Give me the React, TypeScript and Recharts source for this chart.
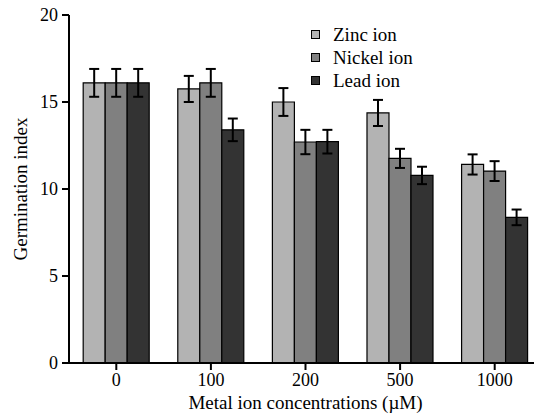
import React from "react";
import { Bar, BarChart, ErrorBar, Label, Legend, XAxis, YAxis } from "recharts";

const concentrations = ["0", "100", "200", "500", "1000"];
const zinc = [16.1, 15.75, 15.0, 14.37, 11.41];
const zincErr = [0.8, 0.75, 0.8, 0.75, 0.58];
const nickel = [16.1, 16.1, 12.7, 11.76, 11.03];
const nickelErr = [0.8, 0.8, 0.7, 0.55, 0.57];
const lead = [16.1, 13.4, 12.72, 10.78, 8.37];
const leadErr = [0.8, 0.65, 0.68, 0.5, 0.45];
const yTicks = [0, 5, 10, 15, 20];

const series = [
  { key: "zinc", name: "Zinc ion", color: "#b3b3b3" },
  { key: "nickel", name: "Nickel ion", color: "#808080" },
  { key: "lead", name: "Lead ion", color: "#333333" },
];

const data = concentrations.map((c, i) => ({
  conc: c,
  zinc: zinc[i],
  zincErr: zincErr[i],
  nickel: nickel[i],
  nickelErr: nickelErr[i],
  lead: lead[i],
  leadErr: leadErr[i],
}));

const FONT = "Times New Roman, Liberation Serif, DejaVu Serif, serif";

const LegendBox = () => (
  <div style={{ fontFamily: FONT, fontSize: 19, color: "#000", lineHeight: "23px" }}>
    {series.map((s) => (
      <div key={s.key} style={{ display: "flex", alignItems: "center" }}>
        <span
          style={{
            display: "inline-block",
            width: 7,
            height: 7,
            background: s.color,
            border: "1px solid #000",
            marginRight: 13,
          }}
        />
        {s.name}
      </div>
    ))}
  </div>
);

const App = () => {
  return (
    <div style={{ position: "absolute", left: 0, top: 0, width: 534, height: 416, overflow: "hidden", background: "#fff" }}>
      <BarChart
        width={542}
        height={416}
        data={data}
        margin={{ top: 15, right: 0, bottom: 0, left: 0 }}
        barCategoryGap="15%"
        barGap={0}
      >
        <XAxis
          dataKey="conc"
          height={53}
          stroke="#000"
          strokeWidth={2}
          tickSize={7}
          tick={{ fill: "#000", fontSize: 18, fontFamily: FONT }}
          tickMargin={3}
        >
          <Label
            value="Metal ion concentrations (µM)"
            position="insideBottom"
            offset={7}
            style={{ fill: "#000", fontSize: 19, fontFamily: FONT }}
          />
        </XAxis>
        <YAxis
          width={69}
          domain={[0, 20]}
          ticks={yTicks}
          stroke="#000"
          strokeWidth={2}
          tickSize={7}
          tickMargin={4}
          tick={{ fill: "#000", fontSize: 18, fontFamily: FONT }}
        >
          <Label
            content={({ viewBox }: any) => {
              const cx = 20;
              const cy = viewBox.y + viewBox.height / 2;
              return (
                <text
                  x={cx}
                  y={cy}
                  transform={`rotate(-90 ${cx} ${cy})`}
                  textAnchor="middle"
                  dominantBaseline="central"
                  fontFamily={FONT}
                  fontSize={19}
                  fill="#000"
                >
                  Germination index
                </text>
              );
            }}
          />
        </YAxis>
        <Legend
          layout="vertical"
          verticalAlign="middle"
          align="center"
          content={LegendBox}
          wrapperStyle={{ left: 311, top: 23, width: 140 }}
        />
        {series.map((s) => (
          <Bar
            key={s.key}
            dataKey={s.key}
            name={s.name}
            fill={s.color}
            stroke="#000"
            strokeWidth={1.2}
            isAnimationActive={false}
          >
            <ErrorBar dataKey={`${s.key}Err`} width={5} stroke="#000" strokeWidth={2} />
          </Bar>
        ))}
      </BarChart>
    </div>
  );
};

export default App;
